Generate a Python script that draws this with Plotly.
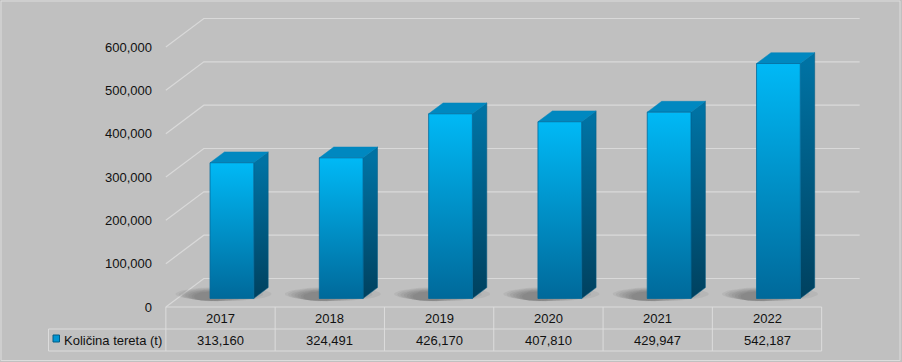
import plotly.graph_objects as go
import numpy as np

# ---------------- data ----------------
years = ["2017", "2018", "2019", "2020", "2021", "2022"]
values = [313160, 324491, 426170, 407810, 429947, 542187]
series_name = "Količina tereta (t)"
y_ticks = [0, 100000, 200000, 300000, 400000, 500000, 600000]

# ---------------- geometry (oblique 3D projection) ----------------
W, H = 902, 362
X0_PX, Y0_PX = 220.5, 307.0          # pixel of category 0 / value 0 on the front plane
PX_CAT = 109.3                       # pixels per category
PX_VAL = 43.33 / 100000              # pixels per value unit
DEPTH_PX = (38.0, 28.5)              # full depth of the floor in pixels (right, up)
DX = DEPTH_PX[0] / PX_CAT
DY = DEPTH_PX[1] / PX_VAL
BAR_W = 0.4
D_FRONT, D_BACK = 0.30, 0.68

FONT = dict(family="Liberation Sans, Arial, sans-serif", size=13, color="#111111")
GRID = "#D9D9D9"
BG = "#C0C0C0"


def py(px):            # pixel from top -> paper y
    return 1 - px / H


def dx_from_px(px):    # pixel x -> data x
    return (px - X0_PX) / PX_CAT


n = len(years)
xs = list(range(n))
fig = go.Figure()

# ---------------- walls: back gridlines + left diagonals ----------------
gx, gy = [], []
for v in y_ticks:
    gx += [-0.5, -0.5 + DX, n - 0.5 + DX, None]
    gy += [v, v + DY, v + DY, None]
fig.add_trace(go.Scatter(x=gx, y=gy, mode="lines", line=dict(color=GRID, width=1.2),
                         hoverinfo="skip", showlegend=False))

# ---------------- soft shadows on the floor ----------------
t = np.linspace(0, 2 * np.pi, 72)
levels = [1.0, 0.88, 0.76, 0.64, 0.52, 0.40, 0.30]
for s in levels:
    k = (1.0 - s) / 0.7                       # 0 for outer, 1 for inner
    cx = (3.0 - 15.0 * k) / PX_CAT            # center drifts to lower-left
    cy = (13.0 - 2.5 * k) / PX_VAL
    rx = 48.0 * s / PX_CAT
    ry = 7.0 * (0.55 + 0.45 * s) / PX_VAL
    ex, ey = [], []
    for i in xs:
        ex += list(i + cx + rx * np.cos(t)) + [None]
        ey += list(cy + ry * np.sin(t)) + [None]
    fig.add_trace(go.Scatter(x=ex, y=ey, mode="lines", fill="toself",
                             fillcolor="rgba(50,50,50,0.07)", line=dict(width=0),
                             hoverinfo="skip", showlegend=False))

# ---------------- 3D bars ----------------
fx, fy = D_FRONT * DX, D_FRONT * DY
bx, by = D_BACK * DX, D_BACK * DY
for i, v in zip(xs, values):
    l, r = i - BAR_W / 2, i + BAR_W / 2
    # side face
    fig.add_trace(go.Scatter(
        x=[r + fx, r + fx, r + bx, r + bx, r + fx],
        y=[fy, v + fy, v + by, by, fy],
        mode="lines", fill="toself", line=dict(width=0.5, color="#005A82"),
        fillgradient=dict(type="vertical", start=fy, stop=v + fy,
                          colorscale=[[0, "#00415F"], [1, "#0072A3"]]),
        hoverinfo="skip", showlegend=False))
    # top face
    fig.add_trace(go.Scatter(
        x=[l + fx, r + fx, r + bx, l + bx, l + fx],
        y=[v + fy, v + fy, v + by, v + by, v + fy],
        mode="lines", fill="toself", fillcolor="#0088C0",
        line=dict(width=0.5, color="#0085BC"),
        hoverinfo="skip", showlegend=False))
    # front face
    fig.add_trace(go.Scatter(
        x=[l + fx, r + fx, r + fx, l + fx, l + fx],
        y=[fy, fy, v + fy, v + fy, fy],
        mode="lines", fill="toself", line=dict(width=1, color="rgba(0,105,155,0.8)"),
        fillgradient=dict(type="vertical", start=fy, stop=v + fy,
                          colorscale=[[0, "#00699A"], [1, "#00B9F6"]]),
        name=series_name, hoverinfo="skip", showlegend=False))

# ---------------- data table ----------------
TOP, MID, BOT = 307.0, 329.0, 351.0
LEG_LEFT = dx_from_px(48.5)
line = dict(color="#DCDCDC", width=1)
shapes = []
shapes.append(dict(type="line", xref="x", yref="paper", x0=-0.5, x1=n - 0.5, y0=py(TOP), y1=py(TOP), line=line))
shapes.append(dict(type="line", xref="x", yref="paper", x0=LEG_LEFT, x1=n - 0.5, y0=py(MID), y1=py(MID), line=line))
shapes.append(dict(type="line", xref="x", yref="paper", x0=LEG_LEFT, x1=n - 0.5, y0=py(BOT), y1=py(BOT), line=line))
shapes.append(dict(type="line", xref="x", yref="paper", x0=LEG_LEFT, x1=LEG_LEFT, y0=py(MID), y1=py(BOT), line=line))
for k in range(n + 1):
    shapes.append(dict(type="line", xref="x", yref="paper", x0=k - 0.5, x1=k - 0.5,
                       y0=py(TOP), y1=py(BOT), line=line))
# legend key
shapes.append(dict(type="rect", xref="paper", yref="paper", x0=53 / W, x1=59.5 / W,
                   y0=py(342), y1=py(335), fillcolor="#0095D2", line=dict(color="#005C85", width=1)))
# outer border
shapes.append(dict(type="rect", xref="paper", yref="paper", x0=1 / W, x1=900 / W,
                   y0=py(360.5), y1=py(1), line=dict(color="#DCDCDC", width=1)))

annotations = []
for i, yr, v in zip(xs, years, values):
    annotations.append(dict(x=i, y=py((TOP + MID) / 2), xref="x", yref="paper", text=yr,
                            showarrow=False, font=FONT, xanchor="center", yanchor="middle"))
    annotations.append(dict(x=i, y=py((MID + BOT) / 2), xref="x", yref="paper", text=f"{v:,}",
                            showarrow=False, font=FONT, xanchor="center", yanchor="middle"))
annotations.append(dict(x=62 / W, y=py((MID + BOT) / 2), xref="paper", yref="paper", text=series_name,
                        showarrow=False, font=FONT, xanchor="left", yanchor="middle"))

fig.update_layout(
    width=W, height=H, autosize=False,
    margin=dict(l=0, r=0, t=0, b=0),
    paper_bgcolor=BG, plot_bgcolor="rgba(0,0,0,0)",
    showlegend=False,
    xaxis=dict(range=[-X0_PX / PX_CAT, (W - X0_PX) / PX_CAT], visible=False, fixedrange=True),
    yaxis=dict(range=[-(H - Y0_PX) / PX_VAL, Y0_PX / PX_VAL], tickvals=y_ticks, tickformat=",",
               showgrid=False, zeroline=False, showline=False, ticks="",
               anchor="free", position=152 / W, tickfont=FONT, fixedrange=True),
    shapes=shapes, annotations=annotations,
)

fig.write_html(
    "out.html",
    config={"displayModeBar": False, "staticPlot": True},
    post_script="document.body.style.margin='0';document.body.style.overflow='hidden';",
)
